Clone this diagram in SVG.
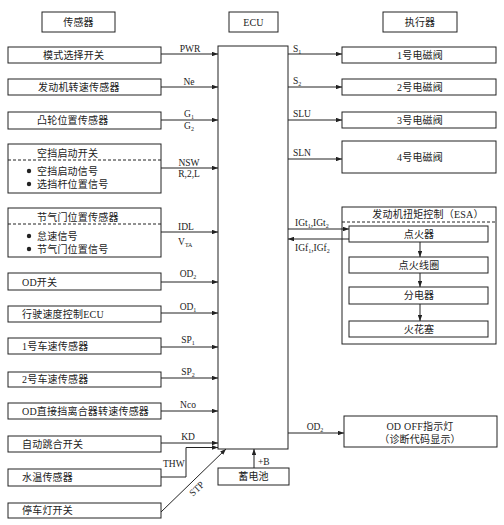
<svg xmlns="http://www.w3.org/2000/svg" width="504" height="525" viewBox="0 0 504 525">
<defs>
<marker id="ah" viewBox="0 0 8 6" refX="8" refY="3" markerWidth="6" markerHeight="4.5" orient="auto" markerUnits="userSpaceOnUse">
<path d="M0,0 L8,3 L0,6 z" fill="#222"/>
</marker>
<style>
rect{fill:#fff;stroke:#222;stroke-width:1}
.d{stroke:#222;stroke-width:1;stroke-dasharray:3,2}
text{font-family:"Liberation Serif","Noto Sans CJK SC",serif;fill:#222}
.c{font-size:10px;letter-spacing:0.2px}
.m{text-anchor:middle}
.l{font-size:9.5px}
.s{font-size:6px}
#conn line,#conn polyline{stroke:#222;stroke-width:1;fill:none;marker-end:url(#ah)}
</style>
</defs>
<rect width="504" height="525" style="fill:#fff;stroke:none"/>

<g id="h1"><rect x="42" y="12" width="73" height="20"/><text class="c m" x="78.5" y="26">传感器</text></g>
<g id="h2"><rect x="229" y="12" width="49" height="20"/><text class="c m" x="253.5" y="26">ECU</text></g>
<g id="h3"><rect x="383" y="12" width="74" height="20"/><text class="c m" x="420" y="26">执行器</text></g>

<g id="ecu"><rect x="218" y="46" width="70" height="403"/></g>

<g id="n1"><rect x="8" y="47" width="153" height="16"/><text class="c" x="43" y="59">模式选择开关</text></g>
<g id="n2"><rect x="8" y="79" width="153" height="16"/><text class="c" x="38" y="91">发动机转速传感器</text></g>
<g id="n3"><rect x="8" y="112" width="153" height="17"/><text class="c" x="37" y="124">凸轮位置传感器</text></g>
<g id="n4"><rect x="8" y="144" width="153" height="49"/><line class="d" x1="8" y1="160" x2="161" y2="160"/>
<text class="c" x="37" y="157">空挡启动开关</text>
<circle cx="29" cy="171" r="2.2" fill="#222"/><text class="c" x="37" y="175">空挡启动信号</text>
<circle cx="29" cy="184" r="2.2" fill="#222"/><text class="c" x="37" y="188">选挡杆位置信号</text></g>
<g id="n5"><rect x="8" y="208" width="153" height="49"/><line class="d" x1="8" y1="224" x2="161" y2="224"/>
<text class="c" x="37" y="221">节气门位置传感器</text>
<circle cx="29" cy="236" r="2.2" fill="#222"/><text class="c" x="37" y="240">怠速信号</text>
<circle cx="29" cy="249" r="2.2" fill="#222"/><text class="c" x="37" y="253">节气门位置信号</text></g>
<g id="n6"><rect x="8" y="273" width="153" height="17"/><text class="c" x="22" y="286">OD开关</text></g>
<g id="n7"><rect x="8" y="306" width="153" height="16"/><text class="c" x="22" y="318">行驶速度控制ECU</text></g>
<g id="n8"><rect x="8" y="338" width="153" height="16"/><text class="c" x="22" y="350">1号车速传感器</text></g>
<g id="n9"><rect x="8" y="372" width="153" height="15"/><text class="c" x="22" y="383">2号车速传感器</text></g>
<g id="n10"><rect x="8" y="403" width="153" height="16"/><text class="c" x="22" y="415">OD直接挡离合器转速传感器</text></g>
<g id="n11"><rect x="8" y="436" width="153" height="16"/><text class="c" x="22" y="448">自动跳合开关</text></g>
<g id="n12"><rect x="8" y="469" width="153" height="17"/><text class="c" x="22" y="481">水温传感器</text></g>
<g id="n13"><rect x="8" y="503" width="153" height="15"/><text class="c" x="22" y="514">停车灯开关</text></g>

<g id="bat"><rect x="218" y="468" width="71" height="17"/><text class="c m" x="253.5" y="480">蓄电池</text></g>

<g id="a1"><rect x="342" y="47" width="154" height="16"/><text class="c m" x="420" y="59">1号电磁阀</text></g>
<g id="a2"><rect x="342" y="79" width="154" height="16"/><text class="c m" x="420" y="91">2号电磁阀</text></g>
<g id="a3"><rect x="342" y="112" width="154" height="16"/><text class="c m" x="420" y="124">3号电磁阀</text></g>
<g id="a4"><rect x="342" y="141" width="154" height="32"/><text class="c m" x="420" y="161">4号电磁阀</text></g>
<g id="esa"><rect x="342" y="207" width="154" height="137"/><line class="d" x1="342" y1="222" x2="496" y2="222"/>
<text class="c m" x="428" y="218">发动机扭矩控制（ESA）</text></g>
<g id="e1"><rect x="349" y="226" width="139" height="16"/><text class="c m" x="419" y="238">点火器</text></g>
<g id="e2"><rect x="349" y="257" width="139" height="16"/><text class="c m" x="419" y="269">点火线圈</text></g>
<g id="e3"><rect x="349" y="287" width="139" height="17"/><text class="c m" x="419" y="299">分电器</text></g>
<g id="e4"><rect x="349" y="321" width="139" height="16"/><text class="c m" x="419" y="333">火花塞</text></g>
<g id="od"><rect x="344" y="416" width="153" height="31"/>
<text class="c m" x="420" y="430">OD OFF指示灯</text><text class="c m" x="420" y="443">（诊断代码显示）</text></g>

<g id="conn">
<line x1="161" y1="54" x2="218" y2="54"/>
<line x1="161" y1="87" x2="218" y2="87"/>
<line x1="161" y1="120" x2="218" y2="120"/>
<line x1="161" y1="168" x2="218" y2="168"/>
<line x1="161" y1="232" x2="218" y2="232"/>
<line x1="161" y1="282" x2="218" y2="282"/>
<line x1="161" y1="313" x2="218" y2="313"/>
<line x1="161" y1="347" x2="218" y2="347"/>
<line x1="161" y1="378" x2="218" y2="378"/>
<line x1="161" y1="411" x2="218" y2="411"/>
<line x1="161" y1="443" x2="218" y2="443"/>
<polyline points="161,477 186,477 186,447.5 218,447.5"/>
<line x1="161" y1="512" x2="226" y2="449"/>
<line x1="254" y1="468" x2="254" y2="449"/>
<line x1="288" y1="54" x2="342" y2="54"/>
<line x1="288" y1="87" x2="342" y2="87"/>
<line x1="288" y1="120" x2="342" y2="120"/>
<line x1="288" y1="159" x2="342" y2="159"/>
<line x1="288" y1="229" x2="349" y2="229"/>
<line x1="349" y1="239" x2="288" y2="239"/>
<line x1="420" y1="242" x2="420" y2="257"/>
<line x1="420" y1="273" x2="420" y2="287"/>
<line x1="420" y1="304" x2="420" y2="321"/>
<line x1="288" y1="433" x2="344" y2="433"/>
</g>

<g id="labels">
<text class="l m" x="190" y="52">PWR</text>
<text class="l m" x="189" y="85">Ne</text>
<text class="l m" x="189" y="117">G<tspan class="s" dy="1.5">1</tspan></text>
<text class="l m" x="189" y="129">G<tspan class="s" dy="1.5">2</tspan></text>
<text class="l m" x="189" y="166">NSW</text>
<text class="l m" x="189" y="177">R,2,L</text>
<text class="l" x="178" y="230">IDL</text>
<text class="l" x="178" y="245">V<tspan class="s" dy="1.5">TA</tspan></text>
<text class="l m" x="188" y="277">OD<tspan class="s" dy="1.5">2</tspan></text>
<text class="l m" x="188" y="310">OD<tspan class="s" dy="1.5">1</tspan></text>
<text class="l m" x="188" y="343">SP<tspan class="s" dy="1.5">1</tspan></text>
<text class="l m" x="188" y="375">SP<tspan class="s" dy="1.5">2</tspan></text>
<text class="l m" x="188" y="408">Nco</text>
<text class="l m" x="188" y="440">KD</text>
<text class="l" x="163" y="467">THW</text>
<text class="l m" x="0" y="0" transform="translate(199,491) rotate(-44)">STP</text>
<text class="l" x="258" y="465">+B</text>
<text class="l" x="293" y="52">S<tspan class="s" dy="1.5">1</tspan></text>
<text class="l" x="293" y="84">S<tspan class="s" dy="1.5">2</tspan></text>
<text class="l" x="293" y="117">SLU</text>
<text class="l" x="293" y="156">SLN</text>
<text class="l" x="295" y="226">IGt<tspan class="s" dy="1.5">1</tspan><tspan dy="-1.5">,IGt</tspan><tspan class="s" dy="1.5">2</tspan></text>
<text class="l" x="295" y="251">IGf<tspan class="s" dy="1.5">1</tspan><tspan dy="-1.5">,IGf</tspan><tspan class="s" dy="1.5">2</tspan></text>
<text class="l m" x="315" y="430">OD<tspan class="s" dy="1.5">2</tspan></text>
</g>
</svg>
